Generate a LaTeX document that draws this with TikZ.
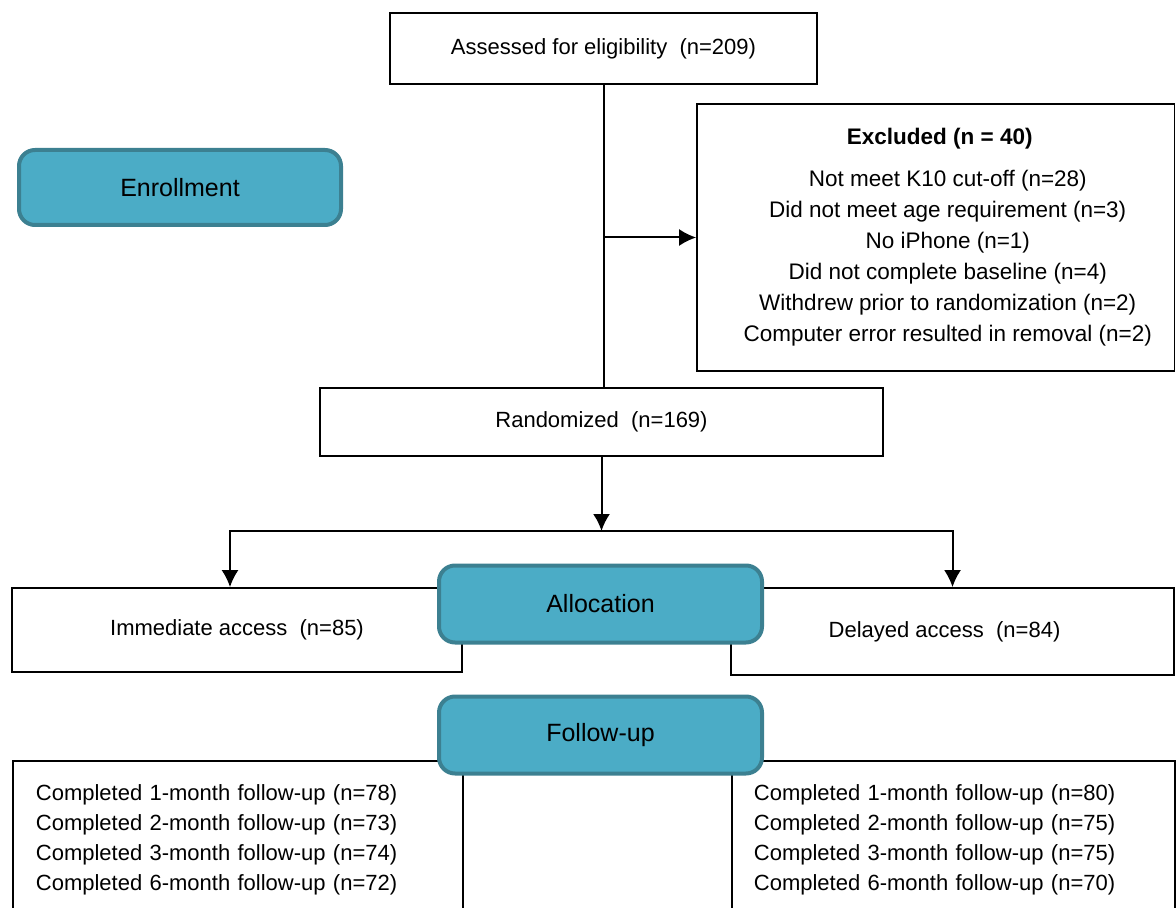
\documentclass[tikz,border=0pt]{standalone}
\usepackage{fontspec}
\setmainfont{Liberation Sans}
\usetikzlibrary{positioning, arrows.meta}
\definecolor{tealfill}{HTML}{4BACC6}
\definecolor{tealline}{HTML}{3C8091}

\begin{document}
\begin{tikzpicture}[x=0.5pt, y=-0.5pt,
    box/.style={draw, line width=0.9pt, fill=white, align=center, inner sep=0pt,
        font=\fontsize{11}{15.5}\selectfont},
    listbox/.style={box, anchor=north west, align=left, inner ysep=12pt,
        font=\fontsize{11}{15}\selectfont},
    stage/.style={draw=tealline, line width=2pt, fill=tealfill, rounded corners=8pt,
        minimum width=161.5pt, minimum height=38.5pt, inner sep=0pt,
        font=\fontsize{12.5}{15}\selectfont},
    arr/.style={-{Latex[length=8.5pt, width=8.5pt]}, line width=1pt}]
    \useasboundingbox (0,0) rectangle (1176,908);

    % Enrollment
    \node[box, minimum width=213.5pt, minimum height=35.5pt] (assess) at (603.5,48.5)
        {Assessed for eligibility~ (n=209)};
    \node[box, minimum width=238.75pt, minimum height=133.5pt] (excl) at (935.75,237.5) {};
    \node[align=center, inner sep=0pt, font=\fontsize{11.25}{15.5}\selectfont] (excltext)
        at ([xshift=6pt]excl.center)
        {\hspace*{-8pt}\textbf{Excluded (n = 40)}\\[5.5pt]
         Not meet K10 cut-off (n=28)\\
         Did not meet age requirement (n=3)\\
         No iPhone (n=1)\\
         Did not complete baseline (n=4)\\
         Withdrew prior to randomization (n=2)\\
         Computer error resulted in removal (n=2)};
    \node[box, minimum width=281.5pt, minimum height=34pt] (rand) at (601.5,422)
        {Randomized~ (n=169)};

    % Allocation
    \node[box, minimum width=225pt, minimum height=42pt] (immed) at (237,630)
        {Immediate access~ (n=85)};
    \node[box, minimum width=221.5pt, minimum height=43.5pt] (delay) at (952.5,631.5)
        {\hspace*{-8pt}Delayed access~ (n=84)};

    % Follow-up
    \node[listbox, text width=202pt, inner xsep=11.5pt] (fuimmed) at (12,760)
        {Completed 1-month follow-up (n=78)\\
         Completed 2-month follow-up (n=73)\\
         Completed 3-month follow-up (n=74)\\
         Completed 6-month follow-up (n=72)};
    \node[listbox, text width=199.5pt, inner xsep=11pt] (fudelay) at (731,760)
        {Completed 1-month follow-up (n=80)\\
         Completed 2-month follow-up (n=75)\\
         Completed 3-month follow-up (n=75)\\
         Completed 6-month follow-up (n=70)};

    % stage labels
    \node[stage, minimum width=161pt, minimum height=37.5pt] (enroll) at (180,187.5) {Enrollment};
    \node[stage] (alloc) at (600.5,604) {Allocation};
    \node[stage] (follow) at (600.5,735) {Follow-up};

    % connectors
    \draw[line width=1pt] (assess.south) -- (assess.south |- rand.north);
    \draw[arr] (assess.south |- excl.west) -- (excl.west);
    \coordinate (split) at (601.5,531);
    \draw[arr] (rand.south) -- (split);
    \draw[arr] (split) -| ([xshift=-3.5pt]immed.north);
    \draw[arr] (split) -| (delay.north);
\end{tikzpicture}
\end{document}
